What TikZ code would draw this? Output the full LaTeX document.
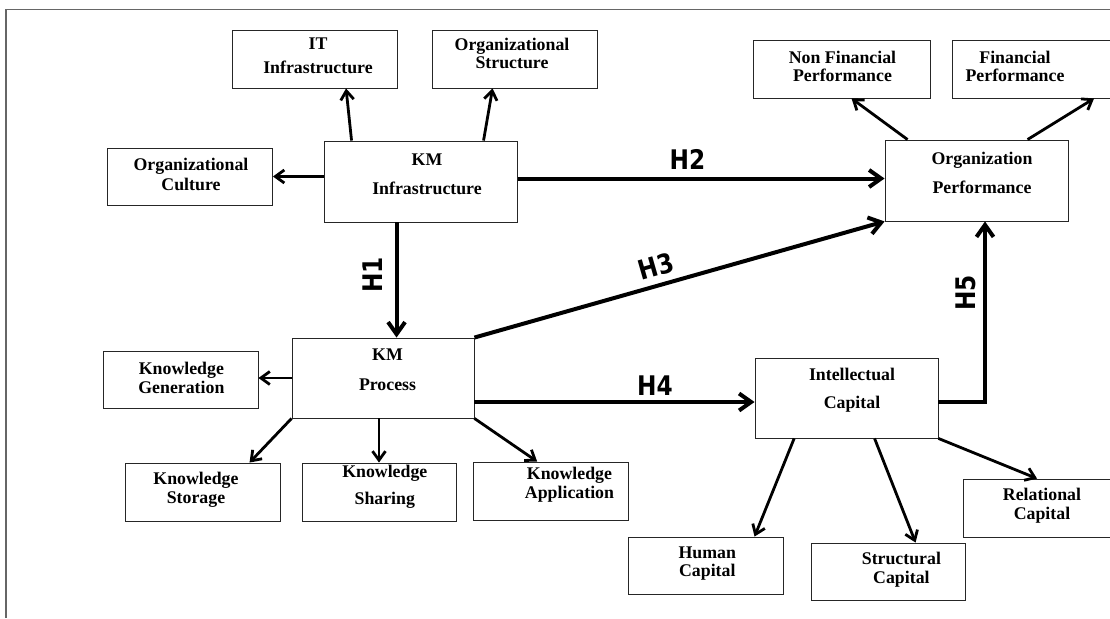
\documentclass[tikz,border=0pt]{standalone}
\usepackage{fontspec}
\setmainfont{Liberation Serif}
\newfontfamily\hfont[FakeStretch=0.86]{DejaVu Sans}
\usetikzlibrary{arrows.meta}

\tikzset{
  box/.style 2 args={draw=black!85, line width=0.9pt, minimum width=#1pt, minimum height=#2pt, inner sep=0pt},
  lbl/.style={font=\bfseries\fontsize{17.8}{18.5}\selectfont, align=center, inner sep=0pt},
  arr/.style={line width=2.8pt, -{Straight Barb[length=9pt,width=13pt]}},
  hyp/.style={line width=4pt, -{Straight Barb[length=12pt,width=17pt]}},
  hlab/.style={font=\hfont\bfseries\fontsize{27}{27}\selectfont, inner sep=0pt},
}

\begin{document}
\begin{tikzpicture}[x=1pt, y=-1pt]
\useasboundingbox (0,0) rectangle (1110,618);
\draw[black!60, line width=1.3pt] (6,618) -- (6,9.5) -- (1110,9.5);

% KM infrastructure side
\node[box={165}{58}] (itinf) at (315,59) {};
\node[lbl] (itinf-t) at (318,55.5) {IT\\[5.5pt]Infrastructure};
\node[box={165}{58}] (orgstr) at (515,59) {};
\node[lbl] (orgstr-t) at (512,53.5) {Organizational\\Structure};
\node[box={165}{57}] (orgcul) at (190,176.5) {};
\node[lbl] (orgcul-t) at (191,174.5) {Organizational\\[1.5pt]Culture};
\node[box={193.5}{81}] (kminf) at (420.75,181.5) {};
\node[lbl] (kminf-t) at (427,174) {KM\\[10.5pt]Infrastructure};

% performance side
\node[box={177}{58}] (nonfin) at (841.5,69) {};
\node[lbl] (nonfin-t) at (842.5,66.5) {Non Financial\\Performance};
\node[box={170}{58}] (fin) at (1037.5,69) {};
\node[lbl] (fin-t) at (1015,66.5) {Financial\\Performance};
\node[box={183}{81}] (orgperf) at (976.5,180.5) {};
\node[lbl] (orgperf-t) at (982,173) {Organization\\[10.5pt]Performance};

% KM process
\node[box={182}{80}] (kmproc) at (383,378) {};
\node[lbl] (kmproc-t) at (387.5,369.5) {KM\\[11.5pt]Process};
\node[box={154.5}{57}] (kgen) at (180.75,379.5) {};
\node[lbl] (kgen-t) at (181.4,378) {Knowledge\\[1pt]Generation};
\node[box={155}{58}] (kstor) at (202.5,492) {};
\node[lbl] (kstor-t) at (196,490) {Knowledge\\Storage};
\node[box={154}{58}] (kshar) at (379,492) {};
\node[lbl] (kshar-t) at (384.8,487) {Knowledge\\[8.5pt]Sharing};
\node[box={154.4}{58}] (kapp) at (550.8,491) {};
\node[lbl] (kapp-t) at (569.5,484.5) {Knowledge\\Application};

% intellectual capital
\node[box={183}{80}] (intcap) at (846.5,398) {};
\node[lbl] (intcap-t) at (852,390.5) {Intellectual\\[9.5pt]Capital};
\node[box={155}{57}] (human) at (705.5,565.5) {};
\node[lbl] (human-t) at (707.3,563.5) {Human\\Capital};
\node[box={154}{57}] (struct) at (888,571.5) {};
\node[lbl] (struct-t) at (901.4,569.5) {Structural\\Capital};
\node[box={160}{58}] (relcap) at (1043,508) {};
\node[lbl] (relcap-t) at (1042,505.5) {Relational\\Capital};

% dimensions
\draw[arr] ([xshift=28pt]kminf.north west) -- ([xshift=114pt]itinf.south west);
\draw[arr] ([xshift=160pt]kminf.north west) -- ([xshift=60.5pt]orgstr.south west);
\draw[arr] (kminf.west |- orgcul.east) -- (orgcul.east);
\draw[arr] ([xshift=23pt]orgperf.north west) -- ([xshift=99pt]nonfin.south west);
\draw[arr] ([xshift=143pt]orgperf.north west) -- ([xshift=142pt]fin.south west);
\draw[arr] (kmproc.west) -- (kmproc.west -| kgen.east);
\draw[arr] (kmproc.south west) -- ([xshift=125pt]kstor.north west);
\draw[arr] (kshar.north |- kmproc.south) -- (kshar.north);
\draw[arr] (kmproc.south east) -- ([xshift=64pt]kapp.north west);
\draw[arr] ([xshift=39.6pt]intcap.south west) -- ([xshift=127pt]human.north west);
\draw[arr] ([xshift=120pt]intcap.south west) -- ([xshift=105pt]struct.north west);
\draw[arr] (intcap.south east) -- ([xshift=74.5pt]relcap.north west);

% hypotheses
\draw[hyp] ([xshift=73pt]kminf.south west) coordinate (h1) -- (h1 |- kmproc.north);
\draw[hyp] ([yshift=3pt]kminf.east) coordinate (h2) -- (h2 -| orgperf.west);
\draw[hyp] (kmproc.north east) -- (orgperf.south west);
\draw[hyp] ([yshift=-24pt]kmproc.east) coordinate (h4) -- (h4 -| intcap.west);
\draw[hyp] ([yshift=-3.5pt]intcap.east) -| ([xshift=8.5pt]orgperf.south);
\node[hlab, rotate=90] (h1-l) at (373,275) {H1};
\node[hlab] (h2-l) at (687.5,159) {H2};
\node[hlab, rotate=16] (h3-l) at (656,266.5) {H3};
\node[hlab] (h4-l) at (655,386) {H4};
\node[hlab, rotate=90] (h5-l) at (966,293) {H5};
\end{tikzpicture}
\end{document}
